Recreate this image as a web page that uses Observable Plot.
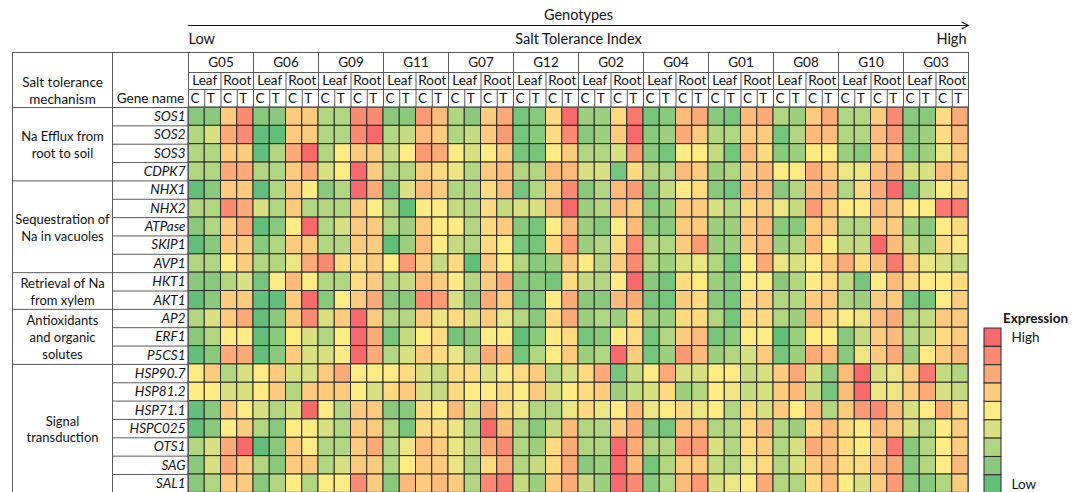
<!DOCTYPE html>
<html>
<head>
<meta charset="utf-8">
<script src="https://cdn.jsdelivr.net/npm/d3@7"></script>
<script src="https://cdn.jsdelivr.net/npm/@observablehq/plot@0.6"></script>
<style>
html,body{margin:0;padding:0;overflow:hidden;background:#fff;}
#chart svg{font-family:Lato,"Noto Sans",sans-serif;}
</style>
</head>
<body>
<div id="chart"></div>
<script>
// ---------- data ----------
const genotypes = ["G05","G06","G09","G11","G07","G12","G02","G04","G01","G08","G10","G03"];
const tissues = ["Leaf","Root"];
const treatments = ["C","T"];
const genes = ["SOS1","SOS2","SOS3","CDPK7","NHX1","NHX2","ATPase","SKIP1","AVP1","HKT1","AKT1",
  "AP2","ERF1","P5CS1","HSP90.7","HSP81.2","HSP71.1","HSPC025","OTS1","SAG","SAL1"];
const mechanisms = ["Na Efflux from\nroot to soil","Sequestration of\nNa in vacuoles","Retrieval of Na\nfrom xylem",
  "Antioxidants\nand organic\nsolutes","Signal\ntransduction"];
const mechanismSizes = [4,5,2,3,7];
// expression level 1 (low) .. 9 (high); one row per gene, columns genotype x tissue x treatment
const SOS1   = [2,2,6,8,2,2,6,6,3,3,8,8, 2,2,7.5,6.5,3,2,6,7,1.5,2,5.5,9, 2.5,2.5,5.5,8.5,1.5,2,6.5,7,2,1.5,6.5,7, 3,2.5,6,7,3,3,6,8,2,2,5.5,7];
const SOS2   = [3,4,7,8,1,1,6,6,3,3,8,9, 3,3.5,6.5,6,3,3.5,6,7.5,1.5,2,5.5,8, 2,2.5,6,9,2,2.5,7,6,3,3,6,6, 1.5,3,6.5,6.5,3,3,6.5,7.5,2,2.5,5.5,6.5];
const SOS3   = [3,3,6,6,1,3,7,9,3,5,6,6, 3.5,5,7.5,7,5,4,5,6,1.5,1.5,5,6, 3,3,4,7.5,2,1.5,5,5,3.5,1.5,6.5,5.5, 2,2.5,5,5,2.5,2,6,6.5,2,2.5,4.5,6];
const CDPK7  = [3,3,7,7,3,3,6,7,4,5,9,6, 3,3,6,5.5,4.5,3,6,6.5,3,3,6.5,6.5, 4,4,1.5,5.5,3,3,6.5,6,2.5,3,6,6.5, 5,5,7,6,4.5,4.5,6.5,7,4,4,6.5,6];
const NHX1   = [1,2,6,6,1,3,6,5,2,3,9,7, 1.5,4,6.5,6,3,3,5.5,6.5,1.5,3,6,8, 2,3,6.5,7.5,2,3.5,5,5.5,2,1.5,6.5,6.5, 2,3,6.5,6.5,3,5.5,7,9,1.5,3.5,5,5.5];
const NHX2   = [3,3,8,7,4,3,6,3,3,3,6,5, 3,1,5,5,3.5,3,5.5,3.5,4,4,6.5,9, 2.5,3,6.5,6,2,2.5,6,6,4,3,5.5,6, 4.5,3.5,7.5,6,5,5,6.5,6,5,5,8.5,8.5];
const ATPase = [2,3,6,7,1,2,5,9,3,4,6,6, 3,2.5,6,5,5,3,5.5,6,2,1.5,5,6.5, 2.5,2,5,6.5,2,2,6,6,2.5,2.5,6,6.5, 2,2,6,6,3,3,6,6,2.5,2,5,5.5];
const SKIP1  = [1,2,6,6,2,3,6,6,3,3,6,6, 1,2.5,6.5,5,3.5,3,5.5,5,1.5,1.5,5.5,7.5, 2.5,3,5.5,8,3,3,6,7.5,2.5,2.5,6,6.5, 2.5,3,6.5,5,3.5,3.5,9,6.5,3.5,2.5,5.5,5];
const AVP1   = [3,3,5,6,3,3,4.5,7,8,5.5,5.5,6, 5,7.5,6,3.5,5.5,1,6,5,3,2,2.5,6, 5,3,6,8,3,2.5,4,4.5,3,1.5,5,7, 4.5,4,5,6,7,5.5,6.5,8.5,6,4.5,4,3.5];
const HKT1   = [2,2,3,4,1.5,5,6.5,5,3,3,5.5,6, 3,3.5,6.5,6,5,3,6,7,2,2,1.5,5.5, 3.5,3,5,9,2,1.5,5.5,5,2.5,2,5,5, 2,3,5,5.5,3.5,1.5,5,6.5,5.5,5,5,5.5];
const AKT1   = [1,2,6,6,1,1,6,9,2,5,6,7, 2,2,8,7.5,4,2,7,6,1.5,2,5,7, 2,2,6.5,7,1.5,1.5,6,5.5,2,1.5,5.5,6, 3,3,6,6,3,2.5,6,6,1.5,1.5,5,6];
const AP2    = [3,4,6,7,1,2,6,8,4,6,9,6, 3,3,6,4.5,5.5,4,6,4.5,3,2,5.5,7, 2.5,3,2.5,5.5,2.5,2.5,5.5,5.5,3,1.5,5.5,5.5, 3,2.5,6.5,5.5,5,4.5,6.5,7,3,3.5,6,6];
const ERF1   = [2,3,5,5,1,2,5,4,3,5,9,7, 1.5,3.5,5,5.5,1.5,2,5,5,1,2,5,5.5, 1.5,2,5,5.5,1.5,3,6,6.5,1.5,2,5,5, 1,2.5,5,5,2,3.5,6,6.5,3,3.5,5.5,6];
const P5CS1  = [1,2,7,7,1,2,6,4,4,5,9,7, 3,4,6,5.5,4.5,3,7,6.5,1.5,3,5,6, 2.5,3,9,6,1.5,2.5,7.5,6.5,2.5,3,4,6, 1.5,2.5,7,6.5,2,4.5,6,7,2.5,5,6,6.5];
const HSP907 = [5,6,3,4,5,6,4,4,6,7,5,5, 5,5.5,4,3.5,5.5,5.5,4,5,5.5,6,3,4, 5.5,7,1.5,3.5,5,7,4,4,5,5,3.5,4, 6,7,4,2,6.5,9,4,4.5,6,8.5,3.5,3];
const HSP812 = [5,5,4,4,5,6,3,6,6,6,5,4, 5.5,6,4,3.5,5.5,5,5,5.5,5,6,4,5, 5.5,6,2.5,3.5,4,5.5,2.5,3,5,4.5,3.5,4, 6,6.5,3.5,1.5,6.5,9,4.5,4.5,6,7,4,3.5];
const HSP711 = [1,2,6,5,4,3,4,9,5,3,6,6, 2,2,5.5,5,6.5,4,7,5.5,4.5,3,3,4.5, 5.5,4.5,5,6.5,4.5,5,5.5,4.5,5,3,5.5,4, 6,5,6.5,3,6,7.5,8,6.5,4,5,7,5.5];
const HSPC025= [1,2,5,6,3,2,5,5,4,3,6,6, 3,1.5,5.5,5.5,4.5,3,9,6.5,3,2,3.5,6.5, 3,3,6,7,2,1.5,6.5,6.5,3,3,5.5,6.5, 3,2.5,5.5,6.5,5.5,5,6.5,6,4,3,5,6];
const OTS1   = [3,4,7,9,1,2,6,5,3,3,6,7, 3,4.5,6.5,6,4.5,3.5,7,8,3,2.5,5.5,7, 3,3,9,7,3,3,7.5,7.5,4,3,5.5,6, 3,4,7,6.5,5.5,5,6,8.5,2,3,5,6];
const SAG    = [2,4,7,6,3,2,6,6,3,4,6,6, 3,5,6,6,4.5,3,5.5,7,3,3.5,5.5,7, 2,2.5,9,6.5,1.5,3,6,6,3.5,3,4.5,5.5, 3,4,6,6.5,5.5,5.5,6.5,7,2,3,5,6.5];
const SAL1   = [2,3,6,6,2,3,5,3,5,5,8,6, 2,6.5,6,6.5,6,3,8,8.5,3.5,2.5,6,7, 3.5,2.5,9,8,2,3,6.5,7.5,4,4.5,5,7, 3,3,5.5,6.5,5,4,6,7.5,2,2,3,6];
const expression = [SOS1,SOS2,SOS3,CDPK7,NHX1,NHX2,ATPase,SKIP1,AVP1,HKT1,AKT1,AP2,ERF1,P5CS1,
  HSP907,HSP812,HSP711,HSPC025,OTS1,SAG,SAL1];
const legendLevels = [9,8,7,6,5,4,3,2,1];
const lowColor = "#63BE7B", midColor = "#FFEB84", highColor = "#F8696B";

// ---------- derived tables ----------
const nCols = genotypes.length * tissues.length * treatments.length;
const cells = [];
expression.forEach((row, r) => row.forEach((v, c) => cells.push({r, c, v})));
const colInfo = [];
genotypes.forEach((g, gi) => tissues.forEach((t, ti) => treatments.forEach((k, ki) => {
  colInfo.push({c: gi*4 + ti*2 + ki, g, t, k});
})));
const tissueInfo = [];
genotypes.forEach((g, gi) => tissues.forEach((t, ti) => tissueInfo.push({c: gi*4 + ti*2 + 1, t})));
const genoInfo = genotypes.map((g, gi) => ({c: gi*4 + 2, g}));
const groupInfo = [];
{ let s = 0; mechanismSizes.forEach((n, i) => { groupInfo.push({label: mechanisms[i], y0: s, y1: s + n}); s += n; }); }

// layout constants (in scale units: one column / one row)
const colW = 16.25, rowH = 18.35, x0 = 188, y0 = 107;
const xLeft = (12 - x0) / colW, xGene = (112 - x0) / colW;
const yTop = (52 - y0) / rowH, yH1 = (72 - y0) / rowH, yH2 = (89 - y0) / rowH;
const nRows = genes.length;
const lineColor = "#5a5a5a";

const hLines = [
  {y: yTop, x1: xLeft, x2: nCols},
  {y: yH1, x1: 0, x2: nCols},
  {y: yH2, x1: 0, x2: nCols},
  {y: 0, x1: xLeft, x2: nCols},
  ...genes.slice(1).map((_, i) => ({y: i + 1, x1: xGene, x2: 0})),
  ...groupInfo.slice(1).map(g => ({y: g.y0, x1: xLeft, x2: xGene}))
];
const vLines = [
  {x: xLeft, y1: yTop, y2: nRows},
  {x: xGene, y1: yTop, y2: nRows},
  {x: 0, y1: yTop, y2: nRows},
  {x: nCols, y1: yTop, y2: nRows},
  ...genotypes.slice(1).map((_, i) => ({x: (i + 1) * 4, y1: yTop, y2: 0})),
  ...genotypes.map((_, i) => ({x: i * 4 + 2, y1: yH1, y2: 0})),
  ...genotypes.flatMap((_, i) => [{x: i * 4 + 1, y1: yH2, y2: 0}, {x: i * 4 + 3, y1: yH2, y2: 0}])
];

const chart = Plot.plot({
  width: 1081,
  height: 492,
  x: {domain: [0, nCols], range: [x0, x0 + nCols * colW], axis: null},
  y: {domain: [0, nRows], range: [y0, y0 + nRows * rowH], axis: null},
  color: {type: "linear", domain: [1, 5, 9], range: [lowColor, midColor, highColor]},
  style: {fontFamily: "Lato, 'Noto Sans', sans-serif", fontSize: "13px", color: "#111"},
  marks: [
    // heatmap cells
    Plot.rect(cells, {x1: "c", x2: d => d.c + 1, y1: "r", y2: d => d.r + 1, fill: "v", stroke: "#2a2a2a", strokeWidth: 1}),
    // table lines
    Plot.ruleY(hLines, {y: "y", x1: "x1", x2: "x2", stroke: lineColor, strokeWidth: 1}),
    Plot.ruleX(vLines, {x: "x", y1: "y1", y2: "y2", stroke: lineColor, strokeWidth: 1}),
    // header texts
    Plot.text(genoInfo, {x: "c", y: (yTop + yH1) / 2, text: "g", fontSize: 13.5}),
    Plot.text(tissueInfo, {x: "c", y: (yH1 + yH2) / 2, text: "t", fontSize: 13.5}),
    Plot.text(colInfo, {x: "c", y: yH2 / 2, text: "k", textAnchor: "start", dx: 2, fontSize: 13.5}),
    Plot.text(["Salt tolerance\nmechanism"], {x: (xLeft + xGene) / 2, y: (yH1 + 0) / 2, text: d => d, fontSize: 13.5, lineHeight: 1.3}),
    Plot.text(["Gene name"], {x: xGene / 2, y: yH2 / 2, text: d => d, fontSize: 13.5}),
    // gene names
    Plot.text(genes, {x: 0, y: (d, i) => i + 0.5, text: d => d, textAnchor: "end", dx: -3, fontStyle: "italic", fontSize: 13.5}),
    // mechanism labels
    Plot.text(groupInfo, {x: (xLeft + xGene) / 2, y: d => (d.y0 + d.y1) / 2, text: "label", fontSize: 13, lineHeight: 1.3}),
    // top arrow and salt tolerance labels
    Plot.arrow([{a: 0, b: nCols}], {x1: "a", x2: "b", y1: (25 - y0) / rowH, y2: (25 - y0) / rowH, stroke: "#111", strokeWidth: 1.2, headLength: 9, headAngle: 55}),
    Plot.text(["Genotypes"], {x: nCols / 2, y: (15 - y0) / rowH, text: d => d, fontSize: 14.5}),
    Plot.text(["Salt Tolerance Index"], {x: nCols / 2, y: (39 - y0) / rowH, text: d => d, fontSize: 14.5}),
    Plot.text(["Low"], {x: 0, y: (39 - y0) / rowH, text: d => d, textAnchor: "start", fontSize: 14.5}),
    Plot.text(["High"], {x: nCols, y: (39 - y0) / rowH, text: d => d, textAnchor: "end", dx: -2, fontSize: 14.5}),
    // legend
    Plot.rect(legendLevels, {x1: (984 - x0) / colW, x2: (1001 - x0) / colW, y1: (d, i) => (328 - y0) / rowH + i, y2: (d, i) => (328 - y0) / rowH + i + 1, fill: d => d, stroke: "#2a2a2a", strokeWidth: 1}),
    Plot.text(["Expression"], {x: (1035 - x0) / colW, y: (318 - y0) / rowH, text: d => d, fontWeight: "bold", fontSize: 13.5}),
    Plot.text(["High"], {x: (1011 - x0) / colW, y: (337 - y0) / rowH, text: d => d, textAnchor: "start", fontSize: 13.5}),
    Plot.text(["Low"], {x: (1011 - x0) / colW, y: (484 - y0) / rowH, text: d => d, textAnchor: "start", fontSize: 13.5})
  ]
});
document.getElementById("chart").appendChild(chart);
</script>
</body>
</html>
